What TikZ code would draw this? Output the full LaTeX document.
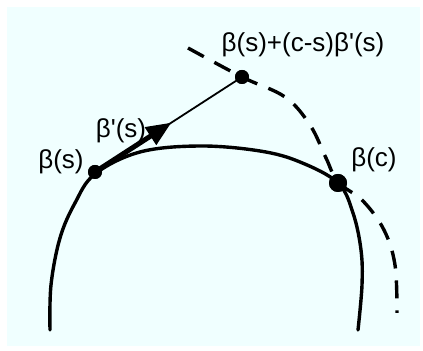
\documentclass[tikz,border=0pt]{standalone}
\usepackage{fontspec}
\setmainfont{Liberation Sans}
\usetikzlibrary{arrows.meta,calc}
\definecolor{cBack}{RGB}{240,255,255}
\newcommand{\prm}{\textquotesingle}

\begin{document}
\begin{tikzpicture}[x=0.5pt, y=-0.5pt,
  font=\fontsize{13}{15}\selectfont,
  dot/.style={circle, fill=black, inner sep=0pt, minimum size=#1},
  lbl/.style={inner sep=0pt},
  curve/.style={line width=1.7pt, line cap=round},
  offset/.style={line width=1.7pt, dash pattern=on 9pt off 6pt},
  vec/.style={-{Triangle[length=12.5pt, width=10pt]}, line width=2.5pt},
]
\useasboundingbox (0,0) rectangle (423,351);
\fill[cBack] (7,7) rectangle (420,346);

% Points on the curve and the tangent end.
\node[dot=7pt] (bs) at (95,172) {};
\node[dot=7pt] (top) at (242,77) {};
\node[dot=9pt] (bc) at (338,183) {};

% The curve beta.
\draw[curve] plot[smooth, tension=0.6] coordinates {
  (50,330) (51,285) (60,238) (75,203) (95,174) (140,152) (200,146)
  (260,151) (300,162) (338,183) (353,213) (361,250) (362,285) (358,330)};

% Dashed comparison curve.
\draw[offset] plot[smooth, tension=0.6] coordinates {
  (188,48) (242,77) (285,97) (310,125) (326,158) (338,182) (363,201)
  (384,230) (395,265) (397,313)};

% Tangent line and unit tangent.
\draw[line width=0.9pt] (bs.center) -- (top.center);
\draw[vec] (bs.center) -- ($(bs)!0.52!(top)$);

\node[dot=7pt] at (bs) {};
\node[dot=7pt] at (top) {};
\node[dot=9pt] at (bc) {};

% Labels.
\node[lbl] (lbs) at (61,162) {β(s)};
\node[lbl] (ltan) at (121,131) {β\prm(s)};
\node[lbl] (ltop) at (303,45) {β(s)+(c-s)β\prm(s)};
\node[lbl] (lbc) at (374,160) {β(c)};

\end{tikzpicture}
\end{document}
